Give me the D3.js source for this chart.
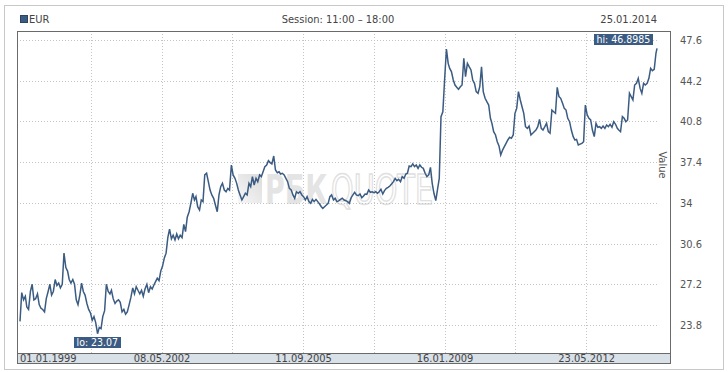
<!DOCTYPE html>
<html>
<head>
<meta charset="utf-8">
<script src="https://cdn.jsdelivr.net/npm/d3@7"></script>
<style>
  body { margin: 0; background: #fff; }
  text { font-family: "Liberation Sans Narrow", "DejaVu Sans Condensed", sans-serif; }
</style>
</head>
<body>
<div id="chart"></div>
<script>
var seriesName = 'EUR';
var session = 'Session: 11:00 \u2013 18:00';
var lastDate = '25.01.2014';

// semi-monthly closes (1st and 16th of each month), last point = 25.01.2014
var values = [
  24.1, 26.5, 25.9, 26.2, 25.3, 25.1, 26.6, 27.2, 25.9, 26.0, 26.4, 25.5, 25.2, 25.1, 24.9, 26.0, 26.6, 27.2, 26.3, 26.6, 27.6, 27.1, 27.3, 26.9,
  27.2, 29.8, 28.6, 28.3, 27.6, 27.3, 27.6, 27.2, 25.9, 25.5, 26.3, 27.3, 26.6, 26.3, 25.6, 25.1, 24.8, 24.2, 24.5, 24.0, 23.07, 23.6, 23.5, 24.5,
  25.0, 27.2, 26.6, 26.4, 26.7, 26.0, 25.6, 25.8, 25.9, 25.7, 24.9, 25.1, 24.7, 24.9, 25.5, 26.1, 26.9, 26.4, 27.0, 26.7, 26.4, 26.7, 26.2, 26.8,
  27.2, 26.5, 27.0, 26.8, 27.1, 27.4, 27.7, 27.5, 28.3, 28.7, 29.4, 29.8, 31.1, 31.8, 31.0, 31.3, 30.9, 31.4, 31.0, 31.3, 31.1, 32.2, 31.6, 32.8,
  33.26, 33.96, 34.80, 34.24, 34.52, 33.68, 33.40, 34.24, 34.10, 36.33, 36.47, 35.77, 35.07, 34.66, 34.38, 33.82, 33.26, 34.66, 35.35, 35.63, 35.07, 34.93, 35.21, 35.07,
  37.16, 36.33, 36.05, 35.63, 35.07, 34.66, 34.24, 34.52, 34.80, 34.66, 35.63, 35.35, 36.19, 35.49, 36.05, 35.77, 36.33, 36.19, 36.60, 37.02, 37.16, 37.52, 37.36, 37.25,
  37.91, 36.74, 36.52, 36.60, 36.41, 36.47, 36.33, 36.05, 35.77, 35.21, 35.07, 34.66, 34.38, 34.93, 34.80, 34.93, 34.66, 34.52, 34.24, 34.52, 34.10, 33.96, 34.29, 34.10,
  34.29, 34.10, 33.90, 33.68, 33.54, 33.68, 33.82, 33.96, 34.52, 34.66, 34.24, 34.38, 34.10, 34.16, 34.29, 34.38, 34.24, 34.18, 34.10, 33.96, 34.43, 34.66, 34.88, 34.66,
  34.60, 34.74, 34.43, 34.57, 34.74, 34.71, 35.07, 34.88, 34.93, 34.85, 34.93, 34.80, 34.93, 35.13, 34.74, 35.02, 35.21, 35.30, 35.41, 35.57, 35.77, 36.05, 35.85, 35.96,
  35.77, 36.19, 36.05, 36.41, 36.47, 37.08, 37.02, 37.25, 37.02, 37.16, 36.88, 37.16, 36.97, 36.88, 36.47, 36.19, 36.33, 36.97, 35.63, 34.80, 34.19, 35.13, 36.05, 41.20,
  41.61, 44.26, 46.85, 45.65, 45.23, 44.96, 44.26, 43.84, 43.65, 43.48, 43.70, 43.84, 46.07, 44.54, 45.65, 45.37, 45.10, 44.26, 43.98, 43.29, 43.15, 43.70, 45.37, 43.29,
  42.73, 42.45, 42.17, 41.06, 40.64, 39.94, 39.67, 39.11, 38.75, 38.00, 38.41, 38.69, 38.97, 39.25, 39.47, 39.39, 39.67, 41.48, 41.89, 43.29, 42.59, 42.03, 41.48, 40.36,
  40.22, 40.42, 39.67, 39.81, 39.94, 40.08, 40.36, 40.97, 40.22, 40.08, 40.36, 40.64, 39.94, 39.81, 41.75, 41.61, 41.48, 43.65, 42.87, 42.73, 42.31, 41.89, 41.75, 41.06,
  40.78, 40.08, 39.53, 39.25, 39.30, 38.83, 38.91, 38.97, 39.11, 42.17, 41.34, 41.06, 40.92, 40.08, 39.53, 40.64, 40.31, 40.36, 40.22, 40.42, 40.22, 40.50, 40.36, 40.56,
  40.31, 40.78, 40.56, 40.22, 40.08, 39.94, 41.20, 41.06, 40.78, 40.92, 43.15, 42.87, 42.59, 43.84, 43.98, 44.40, 43.56, 43.15, 43.98, 43.84, 43.98, 44.40, 45.23, 45.04,
  45.15, 46.49, 46.8985
];

var xTickLabels = ['01.01.1999', '08.05.2002', '11.09.2005', '16.01.2009', '23.05.2012'];
var yTicks = [23.8, 27.2, 30.6, 34, 37.4, 40.8, 44.2, 47.6];

var parse = d3.timeParse('%d.%m.%Y');
var fmt = d3.timeFormat('%d.%m.%Y');

var dates = values.map(function(v, i) {
  if (i === values.length - 1) return parse(lastDate);
  return new Date(1999 + Math.floor(i / 24), Math.floor((i % 24) / 2), i % 2 ? 16 : 1);
});
var data = values.map(function(v, i) { return { date: dates[i], value: v }; });

var W = 728, H = 372;
var frame = { left: 17, right: 671, top: 31, bottom: 353, band: 364 };

var x = d3.scaleTime()
  .domain([parse(xTickLabels[0]), parse(lastDate)])
  .range([20, 657]);
var y = d3.scaleLinear()
  .domain([23.8, 47.6])
  .range([325, 40]);

var svg = d3.select('#chart').append('svg')
  .attr('width', W)
  .attr('height', H);

// outer light box
svg.append('rect')
  .attr('x', 4.5).attr('y', 5.5)
  .attr('width', 719).attr('height', 364)
  .attr('fill', 'none')
  .attr('stroke', '#c8c8c8');

// header
svg.append('rect')
  .attr('x', 20.5).attr('y', 15.5)
  .attr('width', 7).attr('height', 7)
  .attr('fill', '#3b5b82')
  .attr('stroke', '#2c4463');
svg.append('text')
  .attr('x', 29).attr('y', 23)
  .attr('font-size', 11).attr('fill', '#444')
  .text(seriesName);
svg.append('text')
  .attr('x', 338).attr('y', 23)
  .attr('text-anchor', 'middle')
  .attr('font-size', 11).attr('fill', '#444')
  .text(session);
svg.append('text')
  .attr('x', 657).attr('y', 23)
  .attr('text-anchor', 'end')
  .attr('font-size', 11).attr('fill', '#444')
  .text(lastDate);

// watermark
var grad = svg.append('defs').append('linearGradient')
  .attr('id', 'wmg').attr('x1', 0).attr('y1', 1).attr('x2', 1).attr('y2', 0);
grad.append('stop').attr('offset', '0%').attr('stop-color', '#f6f6f6');
grad.append('stop').attr('offset', '100%').attr('stop-color', '#dcdcdc');
svg.append('rect')
  .attr('x', 238).attr('y', 174)
  .attr('width', 24).attr('height', 29)
  .attr('fill', 'url(#wmg)');
svg.append('text')
  .attr('transform', 'translate(265,204) scale(1,1.38)')
  .attr('font-family', 'Liberation Sans, Arial, sans-serif')
  .attr('font-weight', 'bold')
  .attr('font-size', 30)
  .attr('fill', '#e4e4e4')
  .text('РБК');
svg.append('text')
  .attr('transform', 'translate(331,204) scale(1,1.26)')
  .attr('font-family', 'Liberation Sans, Arial, sans-serif')
  .attr('font-size', 32)
  .attr('fill', 'none')
  .attr('stroke', '#e0e0e0')
  .attr('stroke-width', 1.1)
  .text('QUOTE');

// grid
var tickDates = xTickLabels.map(parse);
var gridDates = [];
tickDates.forEach(function(d, i) {
  if (i > 0) gridDates.push(d);
  if (i < tickDates.length - 1) gridDates.push(new Date((d.getTime() + tickDates[i + 1].getTime()) / 2));
});

svg.append('g').selectAll('line.vg').data(gridDates).enter().append('line')
  .attr('x1', function(d) { return Math.round(x(d)) + 0.5; })
  .attr('x2', function(d) { return Math.round(x(d)) + 0.5; })
  .attr('y1', frame.top).attr('y2', frame.bottom)
  .attr('stroke', '#c4c4c4')
  .attr('stroke-dasharray', '1,2');

svg.append('g').selectAll('line.hg').data(yTicks).enter().append('line')
  .attr('x1', 20).attr('x2', 657)
  .attr('y1', function(d) { return Math.round(y(d)) + 0.5; })
  .attr('y2', function(d) { return Math.round(y(d)) + 0.5; })
  .attr('stroke', '#c4c4c4')
  .attr('stroke-dasharray', '1,2');

// x band
svg.append('rect')
  .attr('x', frame.left).attr('y', frame.bottom)
  .attr('width', frame.right - frame.left).attr('height', frame.band - frame.bottom)
  .attr('fill', '#d8e0e8');
svg.append('line')
  .attr('x1', frame.left).attr('x2', frame.right)
  .attr('y1', frame.bottom + 0.5).attr('y2', frame.bottom + 0.5)
  .attr('stroke', '#6a6a6a');

// series line
var line = d3.line()
  .x(function(d) { return x(d.date); })
  .y(function(d) { return y(d.value); });

svg.append('path')
  .datum(data)
  .attr('d', line)
  .attr('fill', 'none')
  .attr('stroke', '#3b5b82')
  .attr('stroke-width', 1.5)
  .attr('stroke-linejoin', 'miter');

// frame
svg.append('rect')
  .attr('x', frame.left + 0.5).attr('y', frame.top + 0.5)
  .attr('width', frame.right - frame.left - 1).attr('height', frame.band - frame.top - 1)
  .attr('fill', 'none')
  .attr('stroke', '#6a6a6a');

// axes
var xAxis = d3.axisBottom(x)
  .tickValues(tickDates)
  .tickFormat(fmt)
  .tickSize(0)
  .tickPadding(0);
var gx = svg.append('g')
  .attr('transform', 'translate(0,' + frame.bottom + ')')
  .call(xAxis);
gx.select('.domain').remove();
gx.selectAll('text')
  .attr('dy', null)
  .attr('y', 9)
  .attr('font-size', 11)
  .attr('font-family', null)
  .attr('fill', '#444')
  .attr('text-anchor', function(d, i) { return i === 0 ? 'start' : 'middle'; });
gx.selectAll('.tick').filter(function(d, i) { return i === 0; })
  .attr('transform', 'translate(20,0)');

var yAxis = d3.axisRight(y)
  .tickValues(yTicks)
  .tickFormat(function(d) { return String(d); })
  .tickSize(0)
  .tickPadding(0);
var gy = svg.append('g')
  .attr('transform', 'translate(680,0)')
  .call(yAxis);
gy.select('.domain').remove();
gy.selectAll('text')
  .attr('font-size', 11)
  .attr('font-family', null)
  .attr('fill', '#555');

svg.append('text')
  .attr('transform', 'translate(659,165) rotate(90)')
  .attr('text-anchor', 'middle')
  .attr('font-size', 11)
  .attr('fill', '#555')
  .text('Value');

// lo / hi labels
var lo = d3.least(data, function(d) { return d.value; });
var hi = d3.greatest(data, function(d) { return d.value; });

function badge(text, px, py, anchor) {
  var g = svg.append('g');
  var t = g.append('text')
    .attr('font-size', 10.5)
    .attr('fill', '#fff')
    .text(text);
  var w = t.node().getComputedTextLength() + 5;
  var bx = anchor === 'right' ? px - w - 4 : px - w / 2;
  var by = anchor === 'right' ? py - 14 : py + 3;
  g.insert('rect', 'text')
    .attr('x', Math.round(bx)).attr('y', Math.round(by))
    .attr('width', Math.round(w)).attr('height', 11)
    .attr('fill', '#3b5b82');
  t.attr('x', Math.round(bx) + 2.5).attr('y', Math.round(by) + 9);
}

badge('lo: ' + lo.value, x(lo.date), y(lo.value), 'below');
badge('hi: ' + hi.value, x(hi.date), y(hi.value), 'right');
</script>
</body>
</html>
